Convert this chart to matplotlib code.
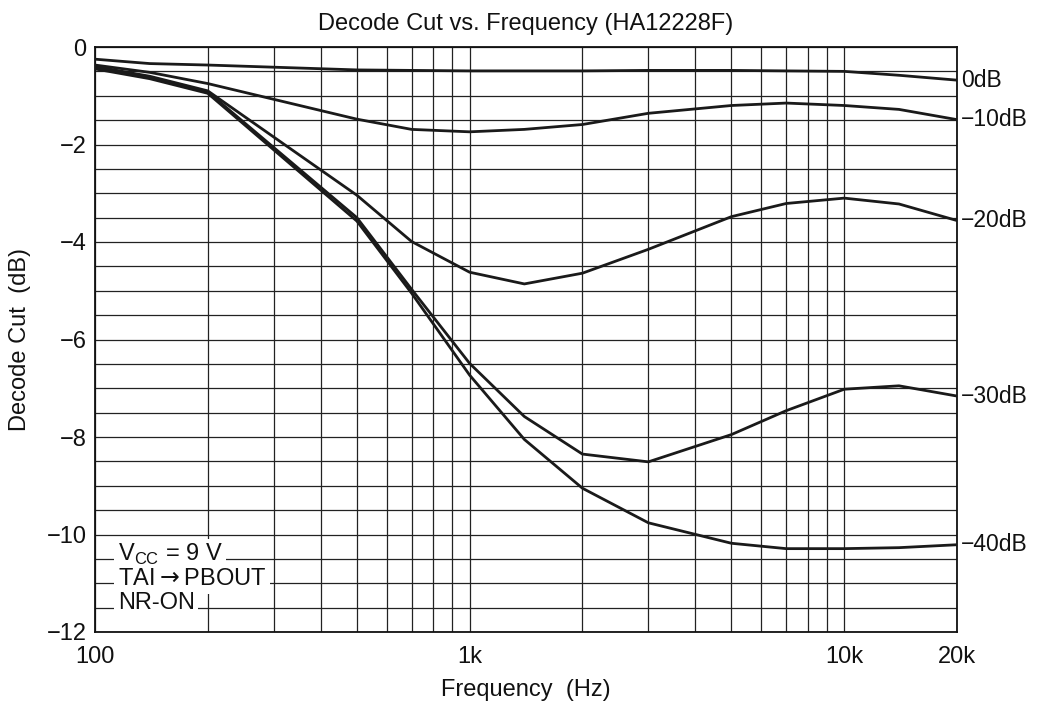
import matplotlib
matplotlib.use("Agg")
import matplotlib.pyplot as plt
from matplotlib.ticker import FixedLocator, NullFormatter

plt.rcParams['font.family'] = ['Liberation Sans', 'DejaVu Sans']

freq = [100, 140, 200, 500, 700, 1000, 1400, 2000, 3000, 5000, 7000, 10000, 14000, 20000]
cut_0 = [-0.25, -0.34, -0.37, -0.47, -0.48, -0.49, -0.49, -0.49, -0.48, -0.48, -0.49, -0.50, -0.58, -0.68]
cut_10 = [-0.37, -0.52, -0.75, -1.48, -1.69, -1.74, -1.69, -1.59, -1.36, -1.20, -1.15, -1.20, -1.28, -1.49]
cut_20 = [-0.40, -0.60, -0.90, -3.04, -3.99, -4.62, -4.86, -4.64, -4.15, -3.48, -3.21, -3.10, -3.22, -3.56]
cut_30 = [-0.42, -0.63, -0.92, -3.50, -4.97, -6.49, -7.58, -8.35, -8.51, -7.95, -7.46, -7.02, -6.95, -7.16]
cut_40 = [-0.45, -0.65, -0.95, -3.57, -5.05, -6.73, -8.05, -9.05, -9.76, -10.18, -10.29, -10.29, -10.27, -10.21]
series = [cut_0, cut_10, cut_20, cut_30, cut_40]
series_labels = ["0dB", "\u221210dB", "\u221220dB", "\u221230dB", "\u221240dB"]

x_major = [100, 1000, 10000, 20000]
x_major_labels = ["100", "1k", "10k", "20k"]
x_minor = [200, 300, 400, 500, 600, 700, 800, 900,
           2000, 3000, 4000, 5000, 6000, 7000, 8000, 9000]
y_major = [0, -2, -4, -6, -8, -10, -12]
y_major_labels = ["0", "\u22122", "\u22124", "\u22126", "\u22128", "\u221210", "\u221212"]
y_minor = [-0.5, -1, -1.5, -2.5, -3, -3.5, -4.5, -5, -5.5, -6.5, -7, -7.5,
           -8.5, -9, -9.5, -10.5, -11, -11.5]

notes = ["V$_{\\mathregular{CC}}$ = 9 V", "TAI$\\rightarrow$PBOUT", "NR-ON"]
note_y = [-10.5, -11.0, -11.5]

fig = plt.figure(figsize=(10.38, 7.05), dpi=100)
ax = fig.add_axes([95/1038, 1-632/705, (957-95)/1038, (632-47)/705])

ax.set_xscale('log')
ax.set_xlim(100, 20000)
ax.set_ylim(-12, 0)

ax.xaxis.set_major_locator(FixedLocator(x_major))
ax.xaxis.set_minor_locator(FixedLocator(x_minor))
ax.set_xticklabels(x_major_labels)
ax.xaxis.set_minor_formatter(NullFormatter())
ax.yaxis.set_major_locator(FixedLocator(y_major))
ax.yaxis.set_minor_locator(FixedLocator(y_minor))
ax.set_yticklabels(y_major_labels)

ax.grid(which='both', color='#222222', linewidth=0.9)
ax.set_axisbelow(True)
ax.tick_params(which='both', length=0, labelsize=17, colors='#111111')
ax.tick_params(axis='x', pad=10)
ax.tick_params(axis='y', pad=6)
for sp in ax.spines.values():
    sp.set_color('#111111')
    sp.set_linewidth(1.3)

for ys, lab in zip(series, series_labels):
    ax.plot(freq, ys, color='#1a1a1a', linewidth=2.0, zorder=3)
    ax.annotate(lab, xy=(freq[-1], ys[-1]), xytext=(3, 0), textcoords='offset points',
                ha='left', va='center', fontsize=16.5, color='#111111', annotation_clip=False)

for t, yv in zip(notes, note_y):
    ax.annotate(t, xy=(0, yv), xycoords=ax.get_yaxis_transform(), xytext=(16.5, 3),
                textcoords='offset points', ha='left', va='center', fontsize=17,
                color='#111111', zorder=4,
                bbox=dict(boxstyle='square,pad=0.15', facecolor='white', edgecolor='none'))

ax.set_title("Decode Cut vs. Frequency (HA12228F)", fontsize=17, color='#111111', pad=12)
ax.set_xlabel("Frequency  (Hz)", fontsize=17, color='#111111', labelpad=8)
ax.set_ylabel("Decode Cut  (dB)", fontsize=17, color='#111111', labelpad=11)

fig.savefig("out.png", dpi=100)
